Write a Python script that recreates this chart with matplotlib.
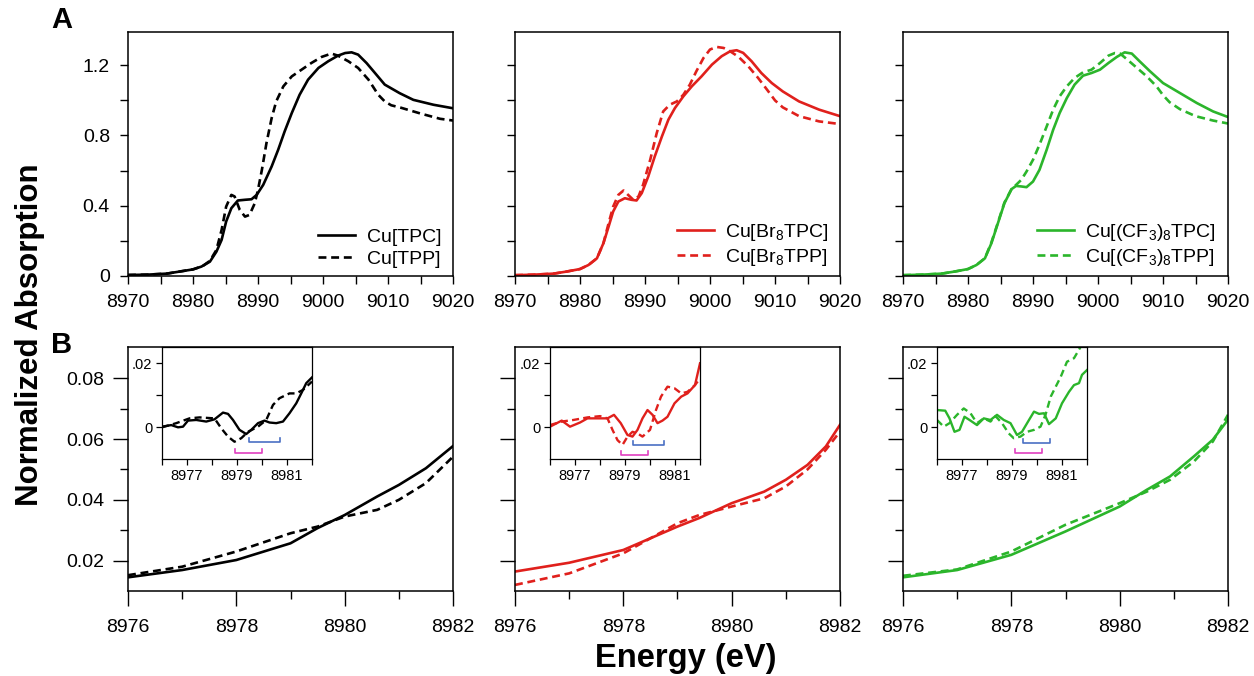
import matplotlib
matplotlib.use("Agg")
import matplotlib.pyplot as plt
from matplotlib.ticker import MultipleLocator, FixedLocator, FuncFormatter

plt.rcParams['font.family'] = ['Liberation Sans', 'DejaVu Sans']
plt.rcParams['mathtext.fontset'] = 'custom'
plt.rcParams['mathtext.rm'] = 'Liberation Sans'
plt.rcParams['mathtext.it'] = 'Liberation Sans:italic'
plt.rcParams['mathtext.bf'] = 'Liberation Sans:bold'
plt.rcParams['mathtext.default'] = 'regular'

# ---------------- data: top row (full XANES) ----------------
tpc_x = [8970, 8973, 8976, 8978, 8980, 8981.3, 8982.6, 8983.6, 8984.4, 8985.1, 8985.9, 8986.9, 8988.0,
         8989.0, 8989.8, 8990.8, 8992.1, 8993.1, 8994.1, 8995.2, 8996.4, 8997.7, 8999.3, 9000.8, 9002.3,
         9003.4, 9004.4, 9005.4, 9006.7, 9008.0, 9009.5, 9011.8, 9013.9, 9017.0, 9020]
tpc_y = [0.004, 0.006, 0.012, 0.024, 0.036, 0.052, 0.080, 0.137, 0.204, 0.309, 0.385, 0.429, 0.433,
         0.436, 0.461, 0.518, 0.623, 0.718, 0.823, 0.928, 1.032, 1.118, 1.185, 1.223, 1.255,
         1.270, 1.274, 1.261, 1.213, 1.156, 1.090, 1.041, 1.003, 0.975, 0.955]
tpp_x = [8970, 8973, 8976, 8978, 8980, 8981.5, 8982.6, 8983.6, 8984.4, 8985.1, 8985.9, 8986.4, 8987.2,
         8988.0, 8988.7, 8989.5, 8990.0, 8990.6, 8991.3, 8992.1, 8992.8, 8993.9, 8995.2, 8996.7, 8998.2,
         8999.8, 9001.3, 9002.3, 9003.9, 9005.4, 9007.0, 9008.5, 9009.5, 9010.5, 9012.0, 9015.0, 9018.0, 9020]
tpp_y = [0.004, 0.006, 0.012, 0.024, 0.036, 0.055, 0.085, 0.147, 0.261, 0.394, 0.461, 0.452, 0.375,
         0.337, 0.347, 0.413, 0.490, 0.604, 0.756, 0.899, 0.994, 1.080, 1.137, 1.175, 1.213,
         1.248, 1.267, 1.255, 1.223, 1.185, 1.118, 1.032, 0.994, 0.972, 0.958, 0.925, 0.895, 0.885]

br_tpc_x = [8970, 8973, 8976, 8978, 8980, 8981.3, 8982.6, 8983.6, 8984.4, 8985.1, 8985.9, 8986.9, 8987.9,
            8988.7, 8989.5, 8990.5, 8991.5, 8992.6, 8993.6, 8994.6, 8995.9, 8997.2, 8998.7, 9000.3, 9001.8,
            9003.1, 9004.1, 9005.1, 9006.4, 9007.9, 9009.5, 9011.2, 9013.7, 9016.8, 9020]
br_tpc_y = [0.003, 0.006, 0.012, 0.024, 0.038, 0.061, 0.099, 0.185, 0.280, 0.366, 0.423, 0.442, 0.433,
            0.429, 0.471, 0.566, 0.680, 0.794, 0.890, 0.956, 1.023, 1.080, 1.137, 1.204, 1.252,
            1.280, 1.286, 1.271, 1.223, 1.156, 1.099, 1.051, 0.994, 0.947, 0.910]
br_tpp_x = [8970, 8973, 8976, 8978, 8980, 8981.3, 8982.6, 8983.6, 8984.4, 8985.1, 8985.9, 8986.7, 8987.4,
            8988.2, 8989.0, 8989.7, 8990.8, 8991.8, 8992.8, 8993.8, 8994.9, 8995.9, 8996.9, 8997.9, 8999.0,
            9000.0, 9001.0, 9002.1, 9003.1, 9004.4, 9005.9, 9007.4, 9009.0, 9010.0, 9011.2, 9013.7, 9016.8, 9020]
br_tpp_y = [0.003, 0.006, 0.012, 0.024, 0.038, 0.061, 0.099, 0.185, 0.299, 0.394, 0.461, 0.486, 0.461,
            0.433, 0.452, 0.518, 0.661, 0.813, 0.937, 0.975, 0.994, 1.032, 1.090, 1.166, 1.242,
            1.290, 1.305, 1.299, 1.280, 1.248, 1.194, 1.128, 1.050, 1.000, 0.960, 0.910, 0.880, 0.865]

cf_tpc_x = [8970, 8973, 8976, 8978, 8980, 8981.3, 8982.6, 8983.6, 8984.6, 8985.6, 8986.7, 8987.4, 8988.2,
            8989.0, 8990.0, 8991.0, 8992.1, 8993.1, 8994.1, 8995.2, 8996.4, 8997.7, 8999.0, 9000.3, 9001.6,
            9002.9, 9004.1, 9005.2, 9006.4, 9008.0, 9010.0, 9012.6, 9015.2, 9017.7, 9020]
cf_tpc_y = [0.003, 0.006, 0.012, 0.024, 0.038, 0.061, 0.099, 0.185, 0.299, 0.413, 0.494, 0.512, 0.509,
            0.505, 0.537, 0.604, 0.718, 0.832, 0.928, 1.013, 1.090, 1.141, 1.156, 1.175, 1.213,
            1.248, 1.274, 1.267, 1.223, 1.166, 1.099, 1.042, 0.985, 0.937, 0.905]
cf_tpp_x = [8970, 8973, 8976, 8978, 8980, 8981.3, 8982.6, 8983.6, 8984.6, 8985.6, 8986.7, 8987.4, 8988.2,
            8989.0, 8990.0, 8991.0, 8992.1, 8993.1, 8994.1, 8995.2, 8996.4, 8997.7, 8999.0, 9000.3, 9001.6,
            9002.6, 9003.4, 9004.4, 9006.0, 9007.5, 9009.0, 9010.0, 9011.0, 9012.6, 9015.0, 9017.7, 9020]
cf_tpp_y = [0.003, 0.006, 0.012, 0.024, 0.038, 0.061, 0.100, 0.190, 0.303, 0.417, 0.494, 0.518, 0.547,
            0.594, 0.661, 0.747, 0.851, 0.947, 1.023, 1.080, 1.128, 1.160, 1.175, 1.213, 1.255,
            1.270, 1.267, 1.236, 1.185, 1.137, 1.080, 1.030, 0.990, 0.950, 0.910, 0.885, 0.868]

# ---------------- data: bottom row (pre-edge) ----------------
pre_x = [8976, 8977, 8978, 8979, 8979.5, 8980, 8980.6, 8981, 8981.5, 8982]
pre_tpc = [0.0145, 0.0169, 0.0202, 0.0257, 0.0307, 0.0350, 0.0411, 0.0449, 0.0504, 0.0577]
pre_tpp = [0.0152, 0.0180, 0.0230, 0.0290, 0.0312, 0.0345, 0.0367, 0.0400, 0.0455, 0.0542]
pre2_x = [8976, 8977, 8978, 8979, 8979.4, 8980, 8980.6, 8981, 8981.4, 8981.74, 8982]
pre_br_tpc = [0.0164, 0.0193, 0.0235, 0.0312, 0.0340, 0.0389, 0.0427, 0.0466, 0.0515, 0.0576, 0.0647]
pre_br_tpp = [0.0120, 0.0158, 0.0224, 0.0323, 0.0350, 0.0378, 0.0405, 0.0444, 0.0500, 0.0565, 0.0625]
pre3_x = [8976, 8977, 8978, 8979, 8980, 8980.5, 8980.93, 8981.37, 8981.72, 8982]
pre_cf_tpc = [0.0145, 0.0169, 0.0219, 0.0296, 0.0378, 0.0433, 0.0477, 0.0543, 0.0598, 0.0664]
pre_cf_tpp = [0.0150, 0.0171, 0.0230, 0.0318, 0.0389, 0.0427, 0.0466, 0.0526, 0.0592, 0.0680]

# ---------------- data: insets (difference spectra) ----------------
in1_tpc_x = [8976, 8976.37, 8976.64, 8976.84, 8977.04, 8977.37, 8977.77, 8978.1, 8978.44, 8978.64, 8978.84,
             8979.1, 8979.37, 8979.57, 8979.84, 8980.1, 8980.3, 8980.57, 8980.84, 8981.1, 8981.37, 8981.57,
             8981.77, 8982]
in1_tpc_y = [0.0002, 0.0007, 0.0, 0.0002, 0.0021, 0.0023, 0.0018, 0.0025, 0.0046, 0.0042, 0.0023,
             -0.0008, -0.0021, -0.0008, 0.0013, 0.0021, 0.0015, 0.0013, 0.0018, 0.0044, 0.0075, 0.0106,
             0.0138, 0.0156]
in1_tpp_x = [8976, 8976.57, 8977.1, 8977.5, 8978.1, 8978.37, 8978.64, 8978.9, 8979.17, 8979.44, 8979.84,
             8980.17, 8980.44, 8980.7, 8981.1, 8981.37, 8981.64, 8982]
in1_tpp_y = [0.0, 0.0013, 0.0028, 0.0031, 0.0028, -0.0003, -0.0029, -0.0045, -0.0034, -0.0014, 0.0002,
             0.0023, 0.0070, 0.0091, 0.0106, 0.0106, 0.0117, 0.0143]

in2_tpc_x = [8976, 8976.47, 8976.8, 8977.2, 8977.5, 8977.9, 8978.3, 8978.56, 8978.83, 8979.1, 8979.3,
             8979.5, 8979.7, 8979.9, 8980.1, 8980.3, 8980.5, 8980.7, 8980.98, 8981.25, 8981.5, 8981.8, 8982]
in2_tpc_y = [0.0002, 0.0021, 0.0002, 0.0015, 0.0028, 0.0028, 0.0028, 0.0039, 0.0013, -0.0024, -0.0029,
             -0.0008, 0.0028, 0.0054, 0.0039, 0.0013, 0.0021, 0.0033, 0.0075, 0.0096, 0.0106, 0.0132, 0.0200]
in2_tpp_x = [8976, 8976.47, 8976.94, 8977.5, 8978.0, 8978.3, 8978.5, 8978.7, 8978.9, 8979.1, 8979.3,
             8979.5, 8979.7, 8980.0, 8980.24, 8980.44, 8980.7, 8980.98, 8981.25, 8981.5, 8981.8, 8982]
in2_tpp_y = [0.0007, 0.0018, 0.0023, 0.0031, 0.0035, 0.0028, -0.0008, -0.0040, -0.0055, -0.0029, -0.0014,
             -0.0019, -0.0029, -0.0008, 0.0054, 0.0096, 0.0127, 0.0122, 0.0106, 0.0111, 0.0132, 0.0153]

in3_tpc_x = [8976, 8976.33, 8976.5, 8976.7, 8976.9, 8977.1, 8977.3, 8977.6, 8977.87, 8978.14, 8978.4,
             8978.67, 8978.94, 8979.2, 8979.4, 8979.68, 8979.88, 8980.08, 8980.28, 8980.48, 8980.75, 8981.0,
             8981.28, 8981.48, 8981.68, 8981.8, 8982]
in3_tpc_y = [0.0054, 0.0052, 0.0028, -0.0014, -0.0008, 0.0033, 0.0023, 0.0007, 0.0028, 0.0023, 0.0039,
             0.0023, 0.0013, -0.0024, -0.0014, 0.0023, 0.0049, 0.0042, 0.0044, 0.0010, 0.0028, 0.0075,
             0.0111, 0.0132, 0.0138, 0.0164, 0.0179]
in3_tpp_x = [8976, 8976.27, 8976.5, 8976.8, 8977.07, 8977.34, 8977.6, 8977.87, 8978.14, 8978.34, 8978.6,
             8978.87, 8979.07, 8979.34, 8979.6, 8979.88, 8980.14, 8980.34, 8980.55, 8980.75, 8980.95, 8981.2,
             8981.48, 8981.75, 8981.95]
in3_tpp_y = [0.0023, 0.0002, 0.0013, 0.0039, 0.0059, 0.0044, 0.0013, 0.0028, 0.0018, 0.0035, 0.0013,
             -0.0019, -0.0034, -0.0029, -0.0014, -0.0008, 0.0002, 0.0039, 0.0096, 0.0127, 0.0158, 0.0205,
             0.0216, 0.0252, 0.0280]

# brackets: (start, end, level)
mag_brackets = [(8978.9, 8980.0, -0.0079), (8978.85, 8979.92, -0.0085), (8979.13, 8980.2, -0.0079)]
blue_brackets = [(8979.47, 8980.71, -0.0046), (8979.31, 8980.55, -0.0054), (8979.42, 8980.53, -0.0050)]

labels_tpc = ['Cu[TPC]', 'Cu[Br$_8$TPC]', 'Cu[(CF$_3$)$_8$TPC]']
labels_tpp = ['Cu[TPP]', 'Cu[Br$_8$TPP]', 'Cu[(CF$_3$)$_8$TPP]']
colors = ['#000000', '#e0201c', '#2bb52b']
MAG = '#e040c0'
BLUE = '#4a70c4'

W, H = 1254, 676
fig = plt.figure(figsize=(W / 100, H / 100), dpi=100)

lefts = [128, 515, 903]
pw = 325
top_y0, top_y1 = 32, 275.7
bot_y0, bot_y1 = 347, 591
in_w, in_h = 150, 112
in_offsets = [34, 35, 34]

def fx(px):
    return px / W

def fy(py):
    return 1 - py / H

top_axes, bot_axes, in_axes = [], [], []
for i in range(3):
    a = fig.add_axes([fx(lefts[i]), fy(top_y1), pw / W, (top_y1 - top_y0) / H])
    b = fig.add_axes([fx(lefts[i]), fy(bot_y1), pw / W, (bot_y1 - bot_y0) / H])
    c = fig.add_axes([fx(lefts[i] + in_offsets[i]), fy(bot_y0 + in_h), in_w / W, in_h / H])
    c.set_zorder(5)
    top_axes.append(a); bot_axes.append(b); in_axes.append(c)

top_data = [(tpc_x, tpc_y, tpp_x, tpp_y), (br_tpc_x, br_tpc_y, br_tpp_x, br_tpp_y),
            (cf_tpc_x, cf_tpc_y, cf_tpp_x, cf_tpp_y)]
bot_data = [(pre_x, pre_tpc, pre_tpp), (pre2_x, pre_br_tpc, pre_br_tpp), (pre3_x, pre_cf_tpc, pre_cf_tpp)]
in_data = [(in1_tpc_x, in1_tpc_y, in1_tpp_x, in1_tpp_y), (in2_tpc_x, in2_tpc_y, in2_tpp_x, in2_tpp_y),
           (in3_tpc_x, in3_tpc_y, in3_tpp_x, in3_tpp_y)]

LW = 1.9
DASH = (0, (3.0, 1.8))

def fmt_top(v, pos):
    return '0' if abs(v) < 1e-9 else f'{v:.1f}'

def fmt_in(v, pos):
    if abs(v) < 1e-9:
        return '0'
    return f'{v:.2f}'.replace('0.', '.')

for i in range(3):
    col = colors[i]
    # ---- top ----
    ax = top_axes[i]
    sx, sy, dx, dy = top_data[i]
    ax.plot(sx, sy, color=col, lw=LW, label=labels_tpc[i], solid_joinstyle='round')
    ax.plot(dx, dy, color=col, lw=LW, linestyle=DASH, label=labels_tpp[i])
    ax.set_xlim(8970, 9020)
    ax.set_ylim(0, 1.39)
    ax.xaxis.set_major_locator(MultipleLocator(10))
    ax.xaxis.set_minor_locator(MultipleLocator(5))
    ax.yaxis.set_major_locator(MultipleLocator(0.4))
    ax.yaxis.set_minor_locator(MultipleLocator(0.2))
    ax.yaxis.set_major_formatter(FuncFormatter(fmt_top))
    ax.tick_params(which='both', direction='out', length=6, width=1.0, labelsize=14, top=False, right=False)
    ax.tick_params(axis='x', which='major', pad=7)
    ax.tick_params(axis='y', which='major', pad=7)
    if i > 0:
        ax.tick_params(axis='y', labelleft=False)
    for s in ax.spines.values():
        s.set_linewidth(1.1)
    ax.legend(loc='lower right', bbox_to_anchor=(1.0, -0.015), frameon=False, fontsize=14,
              handlelength=1.9, handletextpad=0.6, labelspacing=0.2, borderaxespad=0.2)

    # ---- bottom ----
    ax = bot_axes[i]
    bx, by1, by2 = bot_data[i]
    ax.plot(bx, by1, color=col, lw=LW, solid_joinstyle='round')
    ax.plot(bx, by2, color=col, lw=LW, linestyle=DASH)
    ax.set_xlim(8976, 8982)
    ax.set_ylim(0.01, 0.0903)
    ax.xaxis.set_major_locator(MultipleLocator(2))
    ax.xaxis.set_minor_locator(MultipleLocator(1))
    ax.yaxis.set_major_locator(FixedLocator([0.02, 0.04, 0.06, 0.08]))
    ax.yaxis.set_minor_locator(FixedLocator([0.03, 0.05, 0.07]))
    ax.yaxis.set_major_formatter(FuncFormatter(lambda v, p: f'{v:.2f}'))
    ax.xaxis.set_major_formatter(FuncFormatter(lambda v, p: f'{v:.0f}'))
    ax.tick_params(which='major', direction='out', length=11, width=1.0, labelsize=14, pad=6)
    ax.tick_params(axis='x', which='major', pad=9)
    ax.tick_params(which='minor', direction='out', length=6, width=1.0)
    if i > 0:
        ax.tick_params(axis='y', labelleft=False)
    for s in ax.spines.values():
        s.set_linewidth(1.1)

    # ---- inset ----
    ax = in_axes[i]
    ix1, iy1, ix2, iy2 = in_data[i]
    ax.plot(ix1, iy1, color=col, lw=1.7, solid_joinstyle='round')
    ax.plot(ix2, iy2, color=col, lw=1.7, linestyle=DASH)
    m0, m1, mv = mag_brackets[i]
    ax.plot([m0, m0, m1, m1], [mv + 0.0012, mv, mv, mv + 0.0012], color=MAG, lw=1.2)
    b0, b1, bv = blue_brackets[i]
    ax.plot([b0, b0, b1, b1], [bv + 0.0012, bv, bv, bv + 0.0012], color=BLUE, lw=1.2)
    ax.set_xlim(8976, 8982)
    ax.set_ylim(-0.0099, 0.0251)
    ax.xaxis.set_major_locator(FixedLocator([8977, 8979, 8981]))
    ax.xaxis.set_minor_locator(FixedLocator([8976, 8978, 8980, 8982]))
    ax.xaxis.set_major_formatter(FuncFormatter(lambda v, p: f'{v:.0f}'))
    ax.yaxis.set_major_locator(FixedLocator([0.0, 0.02]))
    ax.yaxis.set_minor_locator(FixedLocator([0.01]))
    ax.yaxis.set_major_formatter(FuncFormatter(fmt_in))
    ax.tick_params(which='both', direction='out', length=4, width=0.9, labelsize=10.5, pad=3)
    for s in ax.spines.values():
        s.set_linewidth(0.9)

fig.text(fx(62), fy(20), 'A', fontsize=21, fontweight='bold', ha='center', va='center')
fig.text(fx(62), fy(345), 'B', fontsize=21, fontweight='bold', ha='center', va='center')
fig.text(fx(30), fy(335), 'Normalized Absorption', fontsize=22.5, fontweight='bold',
         rotation=90, ha='center', va='center')
fig.text(fx(686), fy(659), 'Energy (eV)', fontsize=23.5, fontweight='bold', ha='center', va='center')

fig.savefig('out.png', dpi=100)
